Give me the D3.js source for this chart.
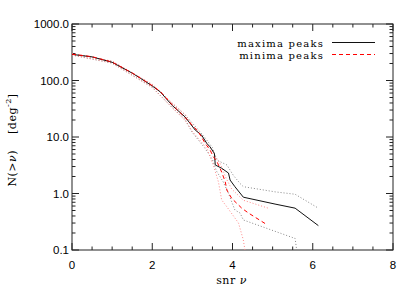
<!DOCTYPE html>
<html>
<head>
<meta charset="utf-8">
<script src="https://cdn.jsdelivr.net/npm/d3@7"></script>
<style>
  body { margin: 0; background: #fff; }
  svg { display: block; }
  .tick-label { font-family: "Liberation Sans", Arial, sans-serif; font-size: 11.5px; fill: #000; }
  .title { font-family: "DejaVu Serif", serif; font-size: 11px; fill: #000; white-space: pre; }
</style>
</head>
<body>
<script>
// snr values and cumulative counts N(>nu)
const maxSnr = [0, 0.5, 1.0, 1.5, 1.7, 2.0, 2.2, 2.5, 2.82, 3.07, 3.23, 3.36, 3.44, 3.55, 3.57, 3.73, 3.90, 3.94, 4.06, 4.27, 5.06, 5.56, 6.14];
const maxN   = [290, 262, 210, 135, 110, 80, 63, 36, 22.6, 13.3, 10.8, 7.7, 6.7, 5.1, 3.2, 2.8, 2.3, 1.73, 1.32, 0.86, 0.65, 0.55, 0.27];

const minSnr = [0, 0.5, 1.0, 1.5, 1.7, 2.0, 2.2, 2.5, 2.82, 3.15, 3.32, 3.44, 3.52, 3.61, 3.73, 3.82, 3.86, 3.98, 4.23, 4.40, 4.86];
const minN   = [292, 264, 212, 136, 111, 81, 64, 37, 22, 12.4, 7.7, 5.9, 4.5, 3.7, 2.4, 1.6, 1.15, 0.82, 0.55, 0.45, 0.28];

// error envelopes (dotted)
const maxHiSnr = [0, 1.0, 2.0, 2.5, 2.82, 3.07, 3.3, 3.5, 3.61, 3.86, 4.02, 4.19, 4.27, 5.06, 5.56, 6.14];
const maxHiN   = [300, 218, 84, 39, 24.5, 15.5, 10, 6.5, 3.9, 3.2, 2.1, 1.5, 1.32, 1.07, 0.97, 0.55];
const maxLoSnr = [0, 1.0, 2.0, 2.5, 2.82, 3.0, 3.3, 3.5, 3.6, 3.77, 3.9, 4.06, 4.19, 4.27, 5.56, 5.6];
const maxLoN   = [282, 203, 76, 33, 20.5, 12, 6.5, 4.0, 2.5, 1.6, 1.0, 0.51, 0.45, 0.34, 0.16, 0.1];

const minHiSnr = [0, 1.0, 2.0, 2.5, 2.82, 3.0, 3.3, 3.5, 3.69, 3.85, 3.98, 4.27, 4.89];
const minHiN   = [302, 220, 86, 40, 25, 16, 8.8, 5.5, 3.4, 1.8, 1.2, 0.76, 0.55];
const minLoSnr = [0, 1.0, 2.0, 2.5, 2.82, 3.0, 3.36, 3.52, 3.65, 3.73, 3.86, 4.15, 4.27, 4.31];
const minLoN   = [284, 205, 75, 33, 19.5, 12.5, 6.3, 3.2, 1.6, 0.77, 0.58, 0.30, 0.15, 0.1];

const xTicks = [0, 2, 4, 6, 8];
const yTicks = [1000, 100, 10, 1, 0.1];
const yTickLabels = ["1000.0", "100.0", "10.0", "1.0", "0.1"];

const legendLabels = ["maxima peaks", "minima peaks"];

const W = 415, H = 297;
const margin = { top: 24, right: 22, bottom: 47, left: 72 };
const width = W - margin.left - margin.right;
const height = H - margin.top - margin.bottom;

const svg = d3.select("body").append("svg")
    .attr("width", W)
    .attr("height", H);

const g = svg.append("g")
    .attr("transform", "translate(" + margin.left + "," + margin.top + ")");

const x = d3.scaleLinear().domain([0, 8]).range([0, width]);
const y = d3.scaleLog().domain([0.1, 1000]).range([height, 0]);

// minor ticks
const xMinor = d3.range(0, 8.01, 0.5);
const yMinor = [];
[0.1, 1, 10, 100].forEach(d => { for (let k = 2; k <= 9; k++) yMinor.push(d * k); });

const axisColor = "#222";
const ticks = g.append("g").attr("stroke", axisColor).attr("stroke-width", 1);

xMinor.forEach(v => {
    const major = v % 2 === 0;
    const len = major ? 7 : 3.5;
    ticks.append("line").attr("x1", x(v)).attr("x2", x(v)).attr("y1", height).attr("y2", height - len);
    ticks.append("line").attr("x1", x(v)).attr("x2", x(v)).attr("y1", 0).attr("y2", len);
});
yMinor.forEach(v => {
    ticks.append("line").attr("x1", 0).attr("x2", 3.5).attr("y1", y(v)).attr("y2", y(v));
    ticks.append("line").attr("x1", width).attr("x2", width - 3.5).attr("y1", y(v)).attr("y2", y(v));
});
yTicks.forEach(v => {
    ticks.append("line").attr("x1", 0).attr("x2", 7).attr("y1", y(v)).attr("y2", y(v));
    ticks.append("line").attr("x1", width).attr("x2", width - 7).attr("y1", y(v)).attr("y2", y(v));
});

g.append("rect")
    .attr("width", width)
    .attr("height", height)
    .attr("fill", "none")
    .attr("stroke", axisColor)
    .attr("stroke-width", 1);

// tick labels
g.selectAll(".xl").data(xTicks).enter().append("text")
    .attr("class", "tick-label")
    .attr("x", d => x(d))
    .attr("y", height + 19)
    .attr("text-anchor", "middle")
    .text(d => d);

g.selectAll(".yl").data(yTicks).enter().append("text")
    .attr("class", "tick-label")
    .attr("x", -3)
    .attr("y", d => y(d) + 4)
    .attr("text-anchor", "end")
    .text((d, i) => yTickLabels[i]);

// axis titles
svg.append("text")
    .attr("class", "title")
    .attr("x", margin.left + x(4) - 1)
    .attr("y", 284)
    .attr("text-anchor", "middle")
    .style("letter-spacing", "0.5px")
    .html("snr <tspan font-style='italic'>ν</tspan>");

svg.append("text")
    .attr("class", "title")
    .attr("transform", "translate(16,140) rotate(-90)")
    .attr("text-anchor", "middle")
    .style("letter-spacing", "0.5px")
    .html("N(&gt;<tspan font-style='italic'>ν</tspan>)&#160;&#160;&#160;&#160;[deg<tspan dy='-5' font-size='8px'>-2</tspan><tspan dy='5'>]</tspan>");

const line = d3.line()
    .x(d => x(d[0]))
    .y(d => y(d[1]));

const zip = (a, b) => a.map((v, i) => [v, b[i]]);

const plot = g.append("g");

plot.append("path").datum(zip(maxHiSnr, maxHiN))
    .attr("d", line).attr("fill", "none").attr("stroke", "#888").attr("stroke-width", 1).attr("stroke-dasharray", "1,2");
plot.append("path").datum(zip(maxLoSnr, maxLoN))
    .attr("d", line).attr("fill", "none").attr("stroke", "#888").attr("stroke-width", 1).attr("stroke-dasharray", "1,2");
plot.append("path").datum(zip(minHiSnr, minHiN))
    .attr("d", line).attr("fill", "none").attr("stroke", "#f88").attr("stroke-width", 1).attr("stroke-dasharray", "1,2");
plot.append("path").datum(zip(minLoSnr, minLoN))
    .attr("d", line).attr("fill", "none").attr("stroke", "#f88").attr("stroke-width", 1).attr("stroke-dasharray", "1,2");

plot.append("path").datum(zip(maxSnr, maxN))
    .attr("d", line).attr("fill", "none").attr("stroke", "#111").attr("stroke-width", 1);
plot.append("path").datum(zip(minSnr, minN))
    .attr("d", line).attr("fill", "none").attr("stroke", "#f00").attr("stroke-width", 1).attr("stroke-dasharray", "4,3");

// legend
const legend = svg.append("g");
const legendStyles = [
    { stroke: "#111", dash: "none" },
    { stroke: "#ff0000", dash: "4,3" }
];
legendLabels.forEach((lab, i) => {
    const ly = 42.5 + i * 12;
    legend.append("text")
        .attr("class", "title")
        .attr("x", 324)
        .attr("y", ly + 4)
        .attr("text-anchor", "end")
        .style("font-size", "10px")
        .style("letter-spacing", "1.2px")
        .text(lab);
    legend.append("line")
        .attr("x1", 332).attr("x2", 375)
        .attr("y1", ly).attr("y2", ly)
        .style("stroke", legendStyles[i].stroke)
        .style("stroke-width", 1)
        .style("stroke-dasharray", legendStyles[i].dash);
});
</script>
</body>
</html>
